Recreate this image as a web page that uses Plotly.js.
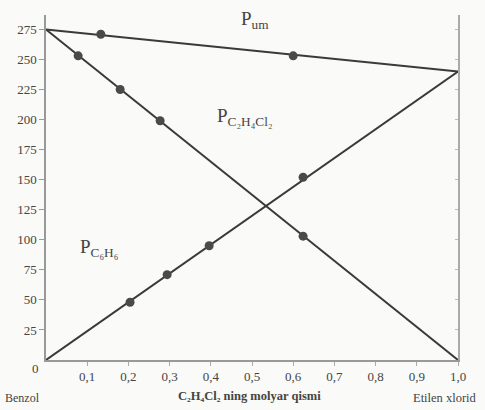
<!DOCTYPE html>
<html><head><meta charset="utf-8">
<script src="https://cdn.plot.ly/plotly-3.0.1.min.js"></script>
<style>html,body{margin:0;padding:0;background:#fafaf8}</style>
</head><body><div id="c" style="width:485px;height:410px"></div>
<script>
// Mole fraction of C2H4Cl2 (x) and vapour pressures
const lineX = [0, 1];
const totalEnds = [275, 240];
const benzeneEnds = [275, 0];
const dichloroEnds = [0, 240];

const totalPtsX = [0.133, 0.60];
const totalPtsY = [271, 253];
const benzenePtsX = [0.078, 0.18, 0.277, 0.624];
const benzenePtsY = [253, 225, 199, 103];
const dichloroPtsX = [0.204, 0.294, 0.396, 0.624];
const dichloroPtsY = [48, 71, 95, 152];

const xTicks = [0.1,0.2,0.3,0.4,0.5,0.6,0.7,0.8,0.9,1.0];
const xTickText = ['0,1','0,2','0,3','0,4','0,5','0,6','0,7','0,8','0,9','1,0'];
const yTicks = [25,50,75,100,125,150,175,200,225,250,275];

const lc = '#3a3a3a';
const mk = {color:'#4a4a4a', size:9};
function line(y){return {x:lineX, y:y, mode:'lines', line:{color:lc, width:2}, hoverinfo:'skip', showlegend:false};}
function pts(x,y){return {x:x, y:y, mode:'markers', marker:mk, showlegend:false};}

const data = [
  line(totalEnds), line(benzeneEnds), line(dichloroEnds),
  pts(totalPtsX,totalPtsY), pts(benzenePtsX,benzenePtsY), pts(dichloroPtsX,dichloroPtsY)
];

const f = {family:'Liberation Serif, Times New Roman, serif', color:'#444'};
function ann(x,y,text,size,ref){
  return {x:x, y:y, xref:ref?'paper':'x', yref:ref?'paper':'y', text:text, showarrow:false,
          xanchor:'center', yanchor:'middle', font:Object.assign({size:size}, f)};
}
const layout = {
  width:485, height:410,
  margin:{l:46, r:27, t:15, b:50},
  paper_bgcolor:'#fafaf8', plot_bgcolor:'#fafaf8',
  font:Object.assign({size:13}, f),
  xaxis:{range:[0,1], tickvals:xTicks, ticktext:xTickText, showgrid:false, zeroline:false,
         showline:true, linecolor:'#999', linewidth:1.5, mirror:false, ticks:'outside', ticklen:4, tickcolor:'#aaa',
         tickfont:Object.assign({size:13}, f)},
  yaxis:{range:[0,287], tickvals:yTicks, showgrid:false, zeroline:false,
         showline:true, linecolor:'#999', linewidth:1.5, ticks:'outside', ticklen:5, tickcolor:'#999',
         tickfont:Object.assign({size:13}, f)},
  yaxis2:{overlaying:'y', side:'right', range:[0,287], showline:true, linecolor:'#aaa', linewidth:1.5,
          anchor:'x', showticklabels:false, ticks:'inside', ticklen:3, tickcolor:'#bbb', tickvals:yTicks, showgrid:false, zeroline:false},
  annotations:[
    ann(0.507, 283, 'P<sub>um</sub>', 19),
    ann(0.483, 202, 'P<sub>C₂H₄Cl₂</sub>', 19),
    ann(0.129, 93, 'P<sub>C₆H₆</sub>', 19),
    ann(-0.026, -0.024, '0', 13, true),
    ann(-0.058, -0.11, 'Benzol', 12, true),
    ann(0.495, -0.105, '<b>C₂H₄Cl₂ ning molyar qismi</b>', 12.5, true),
    ann(0.968, -0.11, 'Etilen xlorid', 12.5, true)
  ]
};
// invisible trace to show right frame axis
data.push({x:[1], y:[0], yaxis:'y2', mode:'markers', marker:{opacity:0}, hoverinfo:'skip', showlegend:false});
Plotly.newPlot('c', data, layout, {displayModeBar:false});
</script></body></html>
